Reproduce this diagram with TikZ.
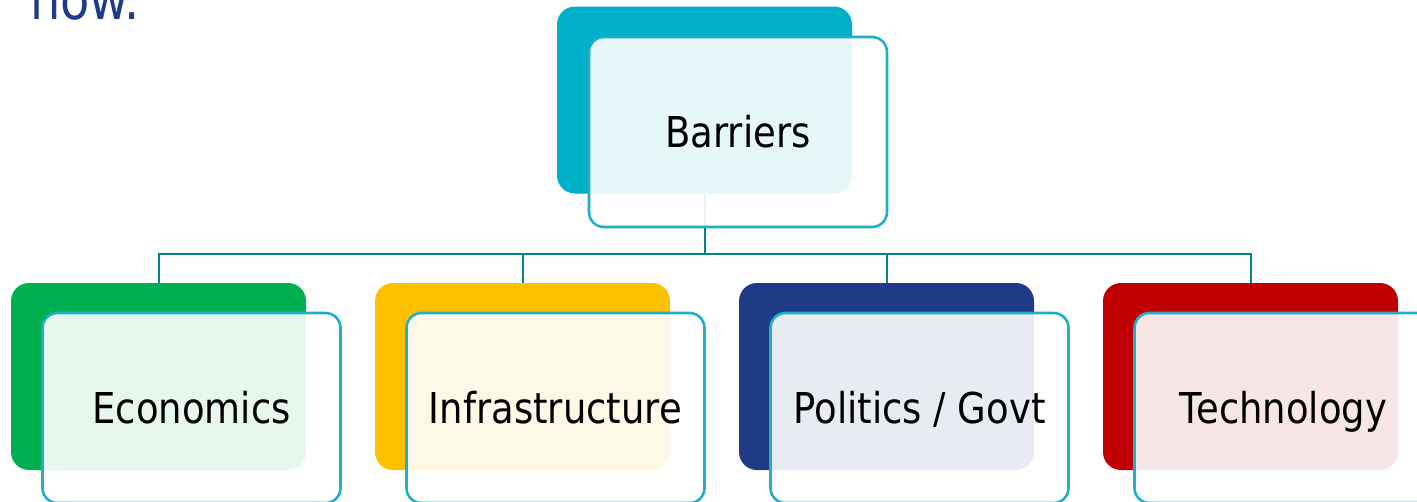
\documentclass[tikz,border=0pt]{standalone}
\usepackage{fontspec}
\setmainfont{DejaVu Sans}[FakeStretch=0.87]
\definecolor{cteal}{HTML}{00AFC8}
\definecolor{cgreen}{HTML}{00B050}
\definecolor{cyellow}{HTML}{FFC000}
\definecolor{cnavy}{HTML}{1F3A87}
\definecolor{cred}{HTML}{C00000}
\definecolor{frame}{HTML}{1FAFC8}
\definecolor{linkc}{HTML}{00868B}
\definecolor{titlec}{HTML}{1F3A87}
\tikzset{
  back/.style={rectangle, rounded corners=18pt, minimum width=295pt, minimum height=187pt, inner sep=0pt, draw=none},
  front/.style={rectangle, rounded corners=15pt, minimum width=298pt, minimum height=190pt, inner sep=0pt,
    text height=31pt, text depth=0pt,
    draw=frame, line width=2.6pt, fill=white, fill opacity=0.9, text opacity=1,
    font=\fontsize{42.5}{50}\selectfont, text=black},
  link/.style={draw=linkc, line width=2pt}
}
\begin{document}
\begin{tikzpicture}[x=1pt,y=-1pt]
\useasboundingbox (0,0) rectangle (1417,501);
\clip (0,0) rectangle (1417,501);
\fill[white] (0,0) rectangle (1417,501);
\node[anchor=base west, inner sep=0pt, text=titlec, font=\fontsize{55}{62}\selectfont] (title) at (30,19) {now.};
% back boxes
\node[back, fill=cteal] (barC) at (704.5,100) {};
\node[back, fill=cgreen] (ecoC) at (158.5,376.5) {};
\node[back, fill=cyellow] (infC) at (522.5,376.5) {};
\node[back, fill=cnavy] (polC) at (886.5,376.5) {};
\node[back, fill=cred] (tecC) at (1250.5,376.5) {};
% connectors
\coordinate (hub) at (704.5,254);
\draw[link] (barC.south) -- (hub);
\draw[link] (hub) -| (ecoC.north);
\draw[link] (hub) -| (infC.north);
\draw[link] (hub) -| (polC.north);
\draw[link] (hub) -| (tecC.north);
% front boxes
\node[front] (barF) at (738,132) {Barriers};
\node[front] (ecoF) at (191.5,408) {Economics};
\node[front] (infF) at (555.5,408) {Infrastructure};
\node[front] (polF) at (919.5,408) {Politics / Govt};
\node[front] (tecF) at (1283.5,408) {Technology};
\end{tikzpicture}
\end{document}
